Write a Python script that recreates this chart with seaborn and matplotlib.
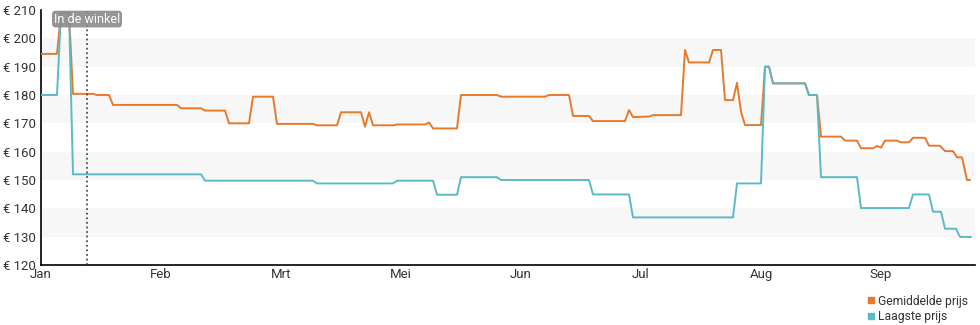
import matplotlib
matplotlib.use("Agg")
import matplotlib.pyplot as plt
from matplotlib.lines import Line2D
from matplotlib.ticker import MultipleLocator, FuncFormatter
import seaborn as sns
import pandas as pd

# Price history, day offsets from the start of January
avg_days = [0, 4, 5, 7, 8, 13, 14, 17, 18, 34, 35, 40, 41, 46, 47, 52, 53, 58, 59, 68,
            69, 74, 75, 80, 81, 82, 83, 88, 89, 96, 97, 98, 104, 105, 114, 115, 126, 127,
            132, 133, 137, 138, 146, 147, 148, 152, 153, 160, 161, 162, 167, 168, 170,
            171, 173, 174, 175, 176, 180, 181, 182, 183, 191, 192, 194, 195, 200, 201,
            204, 205, 208, 209, 210, 211, 214, 215, 217, 218, 221, 222, 224.75, 226, 228,
            229, 230.25, 231.5, 232.25]
avg_price = [194.5, 194.5, 209, 209, 180.4, 180.4, 180, 180, 176.5, 176.5, 175.3, 175.3,
             174.5, 174.5, 170, 170, 179.4, 179.4, 169.8, 169.8, 169.3, 169.3, 173.9,
             173.9, 168.8, 173.9, 169.3, 169.3, 169.6, 169.6, 170.3, 168.2, 168.2, 180,
             180, 179.4, 179.4, 180, 180, 172.6, 172.6, 170.8, 170.8, 174.7, 172.2, 172.4,
             172.9, 172.9, 195.9, 191.5, 191.5, 195.9, 195.9, 178.2, 178.2, 184.3, 174.1,
             169.4, 169.4, 190, 190, 184.1, 184.1, 180, 180, 165.3, 165.3, 163.9, 163.9,
             161.2, 161.2, 162.0, 161.4, 163.9, 163.9, 163.3, 163.3, 164.9, 164.9, 162.1,
             162.1, 160.2, 160.2, 158, 158, 150, 150]

low_days = [0, 4, 5, 7, 8, 40, 41, 68, 69, 88, 89, 98, 99, 104, 105, 114, 115, 137, 138,
            147, 148, 173, 174, 180, 181, 182, 183, 191, 192, 194, 195, 204, 205, 217,
            218, 222, 223, 225, 226, 228.75, 229.75, 232.5]
low_price = [180, 180, 209, 209, 152, 152, 149.75, 149.75, 148.8, 148.8, 149.75, 149.75,
             144.8, 144.8, 151, 151, 150, 150, 144.9, 144.9, 136.8, 136.8, 148.8, 148.8,
             190, 190, 184.1, 184.1, 180, 180, 151, 151, 140.1, 140.1, 144.9, 144.9,
             138.8, 138.8, 132.8, 132.8, 129.9, 129.9]

month_labels = ["Jan", "Feb", "Mrt", "Mei", "Jun", "Jul", "Aug", "Sep"]
series_names = ["Gemiddelde prijs", "Laagste prijs"]
store_label = "In de winkel"
store_day = 11.5

ORANGE = "#e8792b"
TEAL = "#5bbac4"
TEXT = "#333333"

sns.set_style("white")
plt.rcParams["font.family"] = ["Roboto", "DejaVu Sans"]

fig = plt.figure(figsize=(9.8, 3.25), dpi=100)
ax = fig.add_axes([41 / 980, 1 - 265 / 325, (975 - 41) / 980, 255 / 325])

# alternating horizontal bands
for lo in (130, 150, 170, 190):
    ax.axhspan(lo, lo + 10, color="#f7f7f7", zorder=0, lw=0)

avg_df = pd.DataFrame({"dag": avg_days, "prijs": avg_price})
low_df = pd.DataFrame({"dag": low_days, "prijs": low_price})
sns.lineplot(data=avg_df, x="dag", y="prijs", ax=ax, color=ORANGE, lw=1.4,
             estimator=None, sort=False, zorder=3)
sns.lineplot(data=low_df, x="dag", y="prijs", ax=ax, color=TEAL, lw=1.4,
             estimator=None, sort=False, zorder=4)

ax.set_xlim(0, 233.5)
ax.set_ylim(120, 210)
ax.set_xlabel("")
ax.set_ylabel("")

ax.set_yticks(range(120, 211, 10))
ax.yaxis.set_major_formatter(FuncFormatter(lambda v, p: f"€ {int(v)}"))
ax.set_xticks([30 * i for i in range(len(month_labels))])
ax.set_xticklabels(month_labels)
ax.xaxis.set_minor_locator(MultipleLocator(1))

ax.tick_params(axis="y", which="major", direction="inout", length=5, width=1,
               color="black", labelsize=9.5, labelcolor=TEXT, pad=1)
ax.tick_params(axis="x", which="major", direction="inout", length=5, width=1,
               color="black", labelsize=9.5, labelcolor=TEXT, pad=0)
ax.tick_params(axis="x", which="minor", direction="out", length=2, width=0.8,
               color="#444444")

for side in ("top", "right"):
    ax.spines[side].set_visible(False)
for side in ("left", "bottom"):
    ax.spines[side].set_color("black")
    ax.spines[side].set_linewidth(1.2)

# store marker
ax.axvline(store_day, color="#333333", lw=1.1, ls=(0, (1.2, 1.8)), zorder=5)
ax.text(store_day, 206.8, store_label, ha="center", va="center", color="white",
        fontsize=9, zorder=6,
        bbox=dict(boxstyle="round,pad=0.15,rounding_size=0.3", fc="#8a8a8a",
                  ec="none", alpha=0.9))

handles = [Line2D([], [], ls="none", marker="s", markersize=5, color=c)
           for c in (ORANGE, TEAL)]
fig.legend(handles, series_names, loc="upper right", bbox_to_anchor=(0.994, 0.112),
           frameon=False, fontsize=8.7, handlelength=0.55, handletextpad=0.3,
           labelspacing=0.2, borderpad=0, labelcolor=TEXT)

fig.savefig("out.png", dpi=100)
